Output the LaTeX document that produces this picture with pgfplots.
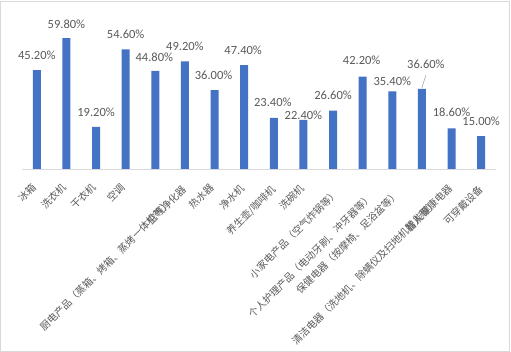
\documentclass[border=0pt]{standalone}
\usepackage{pgfplots}
\pgfplotsset{compat=1.18}
\usepackage{pgfplotstable}
\usepackage{fontspec}
\setmainfont{Carlito}
\newfontfamily\cjk{Noto Sans CJK SC}
\definecolor{barblue}{HTML}{4472C4}
\definecolor{txt}{HTML}{595959}
\definecolor{gridc}{HTML}{D9D9D9}
\newcommand\lbl[2]{\raisebox{-#1pt}{#2}\hspace{-#1pt}}
\pgfplotstableread{
x y dy dx
0 45.2 15 0
1 59.8 14 0
2 19.2 15 0
3 54.6 15 0
4 44.8 14 -1
5 49.2 15 0
6 36.0 15 -1
7 47.4 15 -1
8 23.4 15 -1
9 22.4 5 0
10 26.6 15 0
11 42.2 16 -1
12 35.4 10 0
13 36.6 25 4
14 18.6 16 0
15 15.0 15 0
}\datatable
\begin{document}
\begin{tikzpicture}
\begin{axis}[at={(0pt,0pt)}, anchor=south west, scale only axis,
 width=474pt, height=153.3pt,
 xmin=-0.5, xmax=15.5, ymin=0, ymax=70,
 ybar, bar width=8pt,
 axis x line*=bottom, axis y line=none,
 x axis line style={draw=gridc, line width=0.8pt, -},
 ytick=\empty, xtick={0,...,15}, major tick length=0pt,
 xticklabels={{\lbl{0}{冰箱}},{\lbl{0.7}{洗衣机}},{\lbl{0.7}{干衣机}},{\lbl{0}{空调}},
  {\lbl{23.3}{厨电产品（蒸箱、烤箱、蒸烤一体机等）}},{\lbl{2.8}{空气净化器}},{\lbl{0}{热水器}},
  {\lbl{1.4}{净水机}},{\lbl{3.5}{养生壶/咖啡机}},{\lbl{2.1}{洗碗机}},
  {\lbl{8.5}{小家电产品（空气炸锅等）}},{\lbl{14.8}{个人护理产品（电动牙刷、冲牙器等）}},
  {\lbl{10.6}{保健电器（按摩椅、足浴盆等）}},{\lbl{22.6}{清洁电器（洗地机、除螨仪及扫地机器人等）}},
  {\lbl{2.1}{智能健康电器}},{\lbl{3.5}{可穿戴设备}}},
 xticklabel style={yshift=-19pt, rotate=45, anchor=base east, inner sep=0pt,
  font=\cjk\fontsize{10}{12}\selectfont, text=txt},
 /pgf/number format/assume math mode=true,
 nodes near coords={\pgfmathprintnumber[fixed,fixed zerofill,precision=2]{\pgfplotspointmeta}\%},
 visualization depends on={\thisrow{dy}\as\dy},
 visualization depends on={\thisrow{dx}\as\dx},
 nodes near coords style={anchor=center, yshift=\dy pt, xshift=\dx pt,
  font=\fontsize{12.5}{14}\selectfont, text=txt},
 clip=false,
]
\addplot[fill=barblue, draw=none] table[x=x,y=y] {\datatable};
\draw[black!35, line width=0.6pt] (axis cs:13,36.6) ++(0pt,1pt) -- ++(4pt,13pt);
\end{axis}
\draw[gridc, line width=0.8pt] (-21.5pt,-182pt) rectangle (487.5pt,168pt);
\pgfresetboundingbox
\useasboundingbox (-22pt,-183pt) rectangle (489pt,169pt);
\end{tikzpicture}
\end{document}
